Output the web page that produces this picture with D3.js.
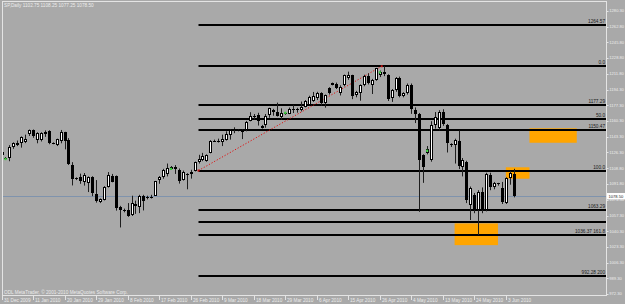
<!DOCTYPE html>
<html><head><meta charset="utf-8">
<script src="https://cdn.jsdelivr.net/npm/d3@7"></script>
<style>html,body{margin:0;padding:0;background:#a9a9a9;overflow:hidden}</style>
</head><body>
<svg id="c" width="625" height="304"></svg>
<script>
// ---------- data ----------
const opens  = [1126,1120.5,1119.7,1132.3,1134,1136.3,1137.7,1145.7,1150.4,1139.6,1139.6,1145.7,1149.7,1136.5,1134.1,1138.8,1147.9,1139.6,1112.4,1097,
1099.5,1094,1093,1099,1081,1072.5,1074.3,1088.1,1100.4,1100.4,1067,1064,1063.5,1058,1069.5,1067.1,1079,1076,1078,1079.1,
1096.1,1099,1103,1110,1110,1107.5,1095.9,1101.2,1103.1,1105.4,1115.5,1118,1117,1125.1,1139,1138.4,1137.6,1140,1145,1151.7,
1150,1148.5,1150.8,1159.9,1166.1,1166.7,1155,1155.4,1166.5,1170.5,1170,1165,1168,1167.7,1173.75,1173.5,1172,1176,1178,1182,
1185,1190.5,1180,1196,1199.5,1201,1190.7,1199.4,1207,1210,1188.5,1191,1199.4,1209.5,1199.5,1205,1210,1214,1210,1185.5,
1194,1207,1187.5,1190.7,1199,1172.5,1168,1123,1125,1118,1156,1153,1170,1156,1134,1134,1138,1110.5,1116,1069,
1080,1063.5,1083,1063.5,1101.5,1088,1092.5,1087,1071.5,1098.3,1102.75];
const highs  = [1127.6,1121,1134,1137,1139,1143.5,1145.4,1151,1151,1148,1148,1150,1150.2,1137,1141,1150.5,1148.5,1141.6,1115.5,1099,
1103,1103.7,1100,1100.2,1096,1076,1089.4,1104.7,1102.7,1101,1068,1065,1071,1079,1073.7,1080,1080,1079,1080,1095.1,
1100.4,1108.2,1114,1111.3,1112.3,1108.6,1106.4,1103.5,1107.2,1116.1,1123.5,1125.6,1124,1139.4,1140,1141.05,1145.4,1149,1151,1153.4,
1151,1151,1160.3,1169.8,1167.8,1169.2,1156,1167.8,1174.7,1173.5,1180.2,1174,1169.5,1174.85,1177.8,1174.6,1181.4,1183,1187.7,1191.8,
1192,1191.5,1189,1197,1202,1202,1199,1210.7,1213.9,1210.5,1193,1200,1210.5,1212,1206,1218,1215,1219.8,1211,1195,
1208,1208.5,1191.5,1201,1201,1175,1169,1124,1133,1160,1170,1172,1173,1157,1136,1141,1150,1120,1117,1089,
1082,1085,1088,1104,1104,1094,1093,1094,1099,1106,1108.25];
const lows   = [1121,1118.5,1116.5,1130,1133,1131.3,1136.2,1144,1142,1136,1138,1143,1135,1135,1133,1136,1129.4,1112.4,1090.2,1096,
1092,1090,1083,1078.5,1071.5,1071,1073.9,1087.9,1093.6,1062.8,1044.5,1061,1056,1057,1059.3,1060.1,1063,1075,1076,1079.1,
1092,1097.5,1100,1107,1102.7,1092.2,1095.5,1086,1097.6,1105.4,1114,1116.6,1116,1125.1,1137.5,1136.8,1133,1139,1140,1147,
1149,1140.6,1149,1159.9,1161.9,1155.3,1152,1152.9,1163.8,1166,1165.1,1161.5,1167,1167.7,1168.9,1169.3,1170.7,1175,1177.5,1181,
1183,1177,1174.7,1189,1199,1195,1188,1198,1205,1184,1186,1182.3,1198,1200,1189.6,1204,1208,1209,1182,1181,
1192,1186,1186,1189,1168,1158,1061.5,1093,1124,1116,1152,1150,1155,1126,1132,1114,1108,1100,1071,1052.6,
1060,1036.3,1060,1062,1085,1086,1090,1070,1070,1091,1077.25];
const closes = [1123,1119.5,1132.3,1136.3,1136.6,1142.8,1140.6,1150.4,1143.9,1147.5,1146.8,1148.6,1136.6,1135.8,1140.3,1148.6,1138,1113,1096.8,1098.5,
1094.5,1101,1099,1082,1073.5,1075,1088.1,1101.5,1094.2,1065.3,1064,1063,1056.9,1070.7,1068,1078.5,1073,1078,1077.5,1094.9,
1099.5,1106.7,1109,1108,1108,1094.6,1105.2,1102.9,1104.5,1115.7,1119,1122,1123,1138.7,1138,1138.5,1140.45,1146,1150.2,1150,
1150.5,1150.5,1159.5,1166.2,1165.8,1159.9,1153,1165.8,1174.2,1172,1165.7,1168.5,1168.7,1173.2,1173.3,1172.5,1176,1182,1186.5,1187,
1190.5,1180,1188.5,1190.8,1201.5,1196.3,1197.5,1210.2,1210.5,1187,1192,1199.4,1209.5,1202,1205,1217.5,1213,1211,1184,1193.5,
1207,1187,1190.5,1199.4,1173,1168,1118,1110.5,1130,1156,1165,1170,1157,1136,1135,1139.5,1111,1117.8,1074,1087.4,
1063.5,1083,1063.5,1102.6,1088,1092.8,1091.5,1072.5,1098.3,1103.7,1078.5];

const dateLabels = ["31 Dec 2009","11 Jan 2010","20 Jan 2010","29 Jan 2010","8 Feb 2010","17 Feb 2010","26 Feb 2010",
"9 Mar 2010","18 Mar 2010","29 Mar 2010","6 Apr 2010","15 Apr 2010","26 Apr 2010","4 May 2010","13 May 2010","24 May 2010","3 Jun 2010"];
const barsPerLabel = 8;

const priceTicks = [1280.30,1262.80,1245.80,1228.80,1211.80,1194.30,1177.30,1160.30,1143.30,1126.30,1108.80,1091.80,
1074.30,1057.30,1040.30,1023.30,1006.30,989.30,972.30];

const fibPrices = [1264.57,1219.80,1177.29,1162.90,1150.47,1106.37,1063.29,1050.60,1036.37,992.28];
const fibLabels = ["1264.57","0.0","1177.29","50.0","1150.47","100.0","1063.29","","1036.37  161.8","992.28  200"];
const fibStartBar = 50;
const trendFrom = [50, 1106.37];
const trendTo   = [96.5, 1219.8];

const zoneBars   = [[115,126],[128,134],[134,146]];
const zonePrices = [[1048.9,1025.3],[1109.9,1097.5],[1152.3,1136.6]];

const markerBars   = [1,43,72,96,108];
const markerPrices = [1119,1108.3,1169.2,1213.2,1128];

const title = "SP,Daily  1102.75 1108.25 1077.25 1078.50";
const bidPrice = 1078.50;
const bidText = "1078.50";
const copyright = "ODL MetaTrader, \u00A9 2001-2010 MetaQuotes Software Corp.";

// ---------- drawing ----------
const W = 625, H = 304;
const L = 2, R = 606, T = 2, B = 296;
const svg = d3.select("#c");
const FONT = "Liberation Sans, Arial, sans-serif";
const FS = 4.7;
const AFS = 4.1;

const x = d3.scaleLinear().domain([0, 153.5]).range([1.5, 606.3]);
const y = d3.scaleLinear().domain([970, 1289.6]).range([B, T]);

svg.append("rect").attr("width", W).attr("height", H).attr("fill", "#a9a9a9");

svg.append("defs").append("clipPath").attr("id","plot")
  .append("rect").attr("x", L).attr("y", T).attr("width", R - L).attr("height", B - T);
const g = svg.append("g").attr("clip-path","url(#plot)");

// bid line
g.append("line").attr("x1", L).attr("x2", R).attr("y1", Math.round(y(bidPrice)) + 0.5).attr("y2", Math.round(y(bidPrice)) + 0.5)
  .attr("stroke", "#7f93ad").attr("stroke-width", 1);

// zones
zoneBars.forEach((b, k) => {
  const [p1, p2] = zonePrices[k];
  g.append("rect").attr("x", x(b[0])).attr("width", x(b[1]) - x(b[0]))
    .attr("y", y(p1)).attr("height", y(p2) - y(p1)).attr("fill", "#ffa500");
});

// fib lines
fibPrices.forEach((p, k) => {
  const yy = Math.round(y(p));
  g.append("line").attr("x1", x(fibStartBar)).attr("x2", R).attr("y1", yy).attr("y2", yy)
    .attr("stroke", "#000").attr("stroke-width", 2);
  if (fibLabels[k]) {
    g.append("text").attr("x", R - 1).attr("y", yy - 1.6).attr("text-anchor", "end")
      .attr("font-family", FONT).attr("font-size", FS).attr("fill", "#1a1a1a").text(fibLabels[k]);
  }
});

// trend line
g.append("line").attr("x1", x(trendFrom[0])).attr("y1", y(trendFrom[1]))
  .attr("x2", x(trendTo[0])).attr("y2", y(trendTo[1]))
  .attr("stroke", "#e01010").attr("stroke-width", 1).attr("stroke-dasharray", "1.2,1.8");
[trendFrom, trendTo].forEach(pt => g.append("rect").attr("x", x(pt[0]) - 1).attr("y", y(pt[1]) - 1)
  .attr("width", 2).attr("height", 2).attr("fill", "#c01010"));

// candles
const cg = g.append("g");
opens.forEach((o, i) => {
  const c = closes[i], h = highs[i], l = lows[i];
  const cx = Math.round(x(i));
  cg.append("line").attr("x1", cx + 0.5).attr("x2", cx + 0.5).attr("y1", y(h)).attr("y2", y(l))
    .attr("stroke", "#1e1e1e").attr("stroke-width", 1);
  const top = Math.round(y(Math.max(o, c))), bot = Math.round(y(Math.min(o, c)));
  if (bot - top < 1.5) {
    cg.append("rect").attr("x", cx - 1).attr("y", top).attr("width", 3).attr("height", 1).attr("fill", "#000");
  } else if (c >= o) {
    cg.append("rect").attr("x", cx - 0.5).attr("y", top + 0.5).attr("width", 2).attr("height", bot - top - 1)
      .attr("fill", "#fff").attr("stroke", "#000").attr("stroke-width", 1);
  } else {
    cg.append("rect").attr("x", cx - 1).attr("y", top).attr("width", 3).attr("height", bot - top).attr("fill", "#000");
  }
});

// markers
markerBars.forEach((b, k) => {
  g.append("rect").attr("x", x(b) - 1).attr("y", y(markerPrices[k]) - 1).attr("width", 2.2).attr("height", 2.2)
    .attr("fill", "#3ccc3c");
});

// frame
const fr = "#e4e4e4";
svg.append("rect").attr("x", L + 0.5).attr("y", T - 0.5).attr("width", R - L).attr("height", B - T)
  .attr("fill", "none").attr("stroke", fr).attr("stroke-width", 1);

// price axis
priceTicks.forEach(p => {
  const yy = y(p);
  svg.append("line").attr("x1", R).attr("x2", R + 2.5).attr("y1", Math.round(yy) + 0.5).attr("y2", Math.round(yy) + 0.5)
    .attr("stroke", fr).attr("stroke-width", 1);
  svg.append("text").attr("x", R + 3.3).attr("y", yy).attr("dy", "0.35em")
    .attr("font-family", FONT).attr("font-size", AFS).attr("fill", "#ececec").text(p.toFixed(2));
});
// bid price box
svg.append("rect").attr("x", R + 1).attr("y", y(bidPrice) - 3.2).attr("width", W - R - 1).attr("height", 6.4).attr("fill", "#fff");
svg.append("text").attr("x", R + 2.5).attr("y", y(bidPrice)).attr("dy", "0.35em")
  .attr("font-family", FONT).attr("font-size", AFS).attr("fill", "#222").text(bidText);

// date axis
dateLabels.forEach((d, k) => {
  const xx = Math.round(x(k * barsPerLabel)) + 0.5;
  svg.append("line").attr("x1", xx).attr("x2", xx).attr("y1", B).attr("y2", B + 4)
    .attr("stroke", fr).attr("stroke-width", 1);
  svg.append("text").attr("x", xx + 1.5).attr("y", B + 6.3)
    .attr("font-family", FONT).attr("font-size", FS).attr("fill", "#ececec").text(d);
});

// title & copyright
svg.append("text").attr("x", 4).attr("y", 7).attr("font-family", FONT).attr("font-size", FS)
  .attr("fill", "#ececec").text(title);
svg.append("text").attr("x", 4).attr("y", B - 2.5).attr("font-family", FONT).attr("font-size", FS)
  .attr("fill", "#ececec").text(copyright);
</script>
</body></html>
